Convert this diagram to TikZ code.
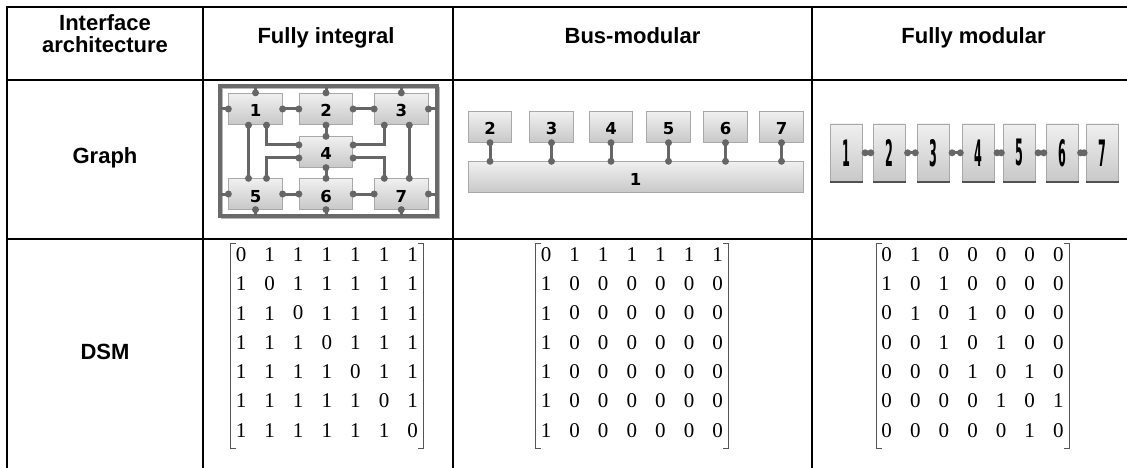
\documentclass[tikz,border=0pt]{standalone}
\usepackage{fontspec}
\setmainfont{Liberation Sans}
\newfontfamily\serifnum{Liberation Serif}
\newfontfamily\boxnum{DejaVu Sans}
\usetikzlibrary{calc}
\definecolor{connc}{HTML}{666666}
\definecolor{framec}{HTML}{6A6A6A}
\definecolor{framesh}{HTML}{B8B8B8}
\definecolor{boxedge}{HTML}{A8A8A8}
\definecolor{boxtop}{HTML}{F0F0F0}
\definecolor{boxbot}{HTML}{C8C8C8}
\definecolor{brkc}{HTML}{555555}
\tikzset{
  tbl/.style={line width=2.2pt, black},
  hdr/.style={font=\fontsize{22}{22}\selectfont\bfseries, inner sep=0pt},
  gbox/.style={draw=boxedge, top color=boxtop, bottom color=boxbot, line width=0.8pt, inner sep=0pt,
    font=\boxnum\bfseries\fontsize{16.5}{16.5}\selectfont, text height=16pt, text depth=0pt},
  fmbox/.style={draw=boxedge, top color=boxtop, bottom color=boxbot, line width=0.8pt, inner sep=0pt,
    minimum width=32pt, minimum height=57.7pt, font=\boxnum\bfseries\fontsize{14}{14}\selectfont},
  conn/.style={draw=connc, line width=3pt},
  cell/.style={font=\serifnum\fontsize{21}{21}\selectfont, inner sep=0pt},
  brk/.style={draw=brkc, line width=0.9pt},
}
\begin{document}
\begin{tikzpicture}[x=1pt,y=-1pt]
\useasboundingbox (0,0) rectangle (1127,468);
\fill[white] (0,0) rectangle (1127,468);

% table grid
\draw[tbl] (1127,7) -- (7,7) -- (7,468);
\draw[tbl] (7,80) -- (1127,80);
\draw[tbl] (7,239) -- (1127,239);
\draw[tbl] (203,7) -- (203,468);
\draw[tbl] (453,7) -- (453,468);
\draw[tbl] (812,7) -- (812,468);

% headers
\node[hdr, align=center] (hIA) at (105,34) {Interface\\architecture};
\node[hdr, anchor=base] (hFI) at (326,44) {Fully integral};
\node[hdr, anchor=base] (hBM) at (632.5,44) {Bus-modular};
\node[hdr, anchor=base] (hFM) at (973.5,44) {Fully modular};
\node[hdr, anchor=base] (rG) at (105,164) {Graph};
\node[hdr, anchor=base] (rD) at (105,359) {DSM};

% ---------- fully integral graph ----------
\node[minimum width=217pt, minimum height=130pt, inner sep=0pt, outer sep=0pt] (fr) at (328.5,151) {};
\draw[framesh, line width=2pt] ([shift={(1.8pt,-1.8pt)}]fr.south west) rectangle ([shift={(1.8pt,-1.8pt)}]fr.north east);
\draw[framec, line width=3.2pt] (fr.south west) rectangle (fr.north east);

\node[gbox, minimum width=53.5pt, minimum height=31.5pt] (i1) at (255.5,109) {1};
\node[gbox, minimum width=53.5pt, minimum height=31.5pt] (i2) at (326,109) {2};
\node[gbox, minimum width=53.5pt, minimum height=31.5pt] (i3) at (401.3,109) {3};
\node[gbox, minimum width=53.5pt, minimum height=30.5pt] (i4) at (326,152) {4};
\node[gbox, minimum width=53.5pt, minimum height=30.5pt] (i5) at (255.5,194) {5};
\node[gbox, minimum width=53.5pt, minimum height=30.5pt] (i6) at (326,194) {6};
\node[gbox, minimum width=53.5pt, minimum height=30.5pt] (i7) at (401.3,194) {7};

\coordinate (a15) at ([xshift=-7pt]i1.south);
\coordinate (b15) at ([xshift=-7pt]i5.north);
\coordinate (a37) at ([xshift=8pt]i3.south);
\coordinate (b37) at ([xshift=8pt]i7.north);
\coordinate (a14) at ([xshift=11pt]i1.south);
\coordinate (b14) at ([yshift=7pt]i4.west);
\coordinate (a54) at ([xshift=11pt]i5.north);
\coordinate (b54) at ([yshift=-6pt]i4.west);
\coordinate (a34) at ([xshift=-17pt]i3.south);
\coordinate (b34) at ([yshift=7pt]i4.east);
\coordinate (a74) at ([xshift=-17pt]i7.north);
\coordinate (b74) at ([yshift=-6pt]i4.east);

\foreach \n in {i1,i2,i3} \draw[conn] (\n.north) -- (\n.north |- fr.north);
\foreach \n in {i5,i6,i7} \draw[conn] (\n.south) -- (\n.south |- fr.south);
\foreach \n in {i1,i5} \draw[conn] (\n.west) -- (\n.west -| fr.west);
\foreach \n in {i3,i7} \draw[conn] (\n.east) -- (\n.east -| fr.east);
\draw[conn] (i1.east) -- (i2.west);
\draw[conn] (i2.east) -- (i3.west);
\draw[conn] (i5.east) -- (i6.west);
\draw[conn] (i6.east) -- (i7.west);
\draw[conn] (i2.south) -- (i4.north);
\draw[conn] (i4.south) -- (i6.north);
\draw[conn] (a15) -- (b15);
\draw[conn] (a37) -- (b37);
\draw[conn] (a14) |- (b14);
\draw[conn] (a54) |- (b54);
\draw[conn] (a34) |- (b34);
\draw[conn] (a74) |- (b74);

\foreach \p in {i1.north,i2.north,i3.north,i5.south,i6.south,i7.south,
  i1.west,i5.west,i3.east,i7.east,i1.east,i2.west,i2.east,i3.west,
  i5.east,i6.west,i6.east,i7.west,i2.south,i4.north,i4.south,i6.north,
  a15,b15,a37,b37,a14,b14,a54,b54,a34,b34,a74,b74}
  \fill[connc] (\p) circle (3.5pt);

% ---------- bus-modular graph ----------
\node[gbox, minimum width=335pt, minimum height=31pt] (u1) at (635.5,177.2) {1};
\foreach \i/\x in {2/490,3/551.5,4/611,5/668.5,6/725.5,7/781.5}{
  \node[gbox, minimum width=43.5pt, minimum height=30.6pt] (u\i) at (\x,127) {\i};
  \draw[conn] (u\i.south) -- (u\i.south |- u1.north);
  \fill[connc] (u\i.south) circle (3.5pt);
  \fill[connc] (u\i.south |- u1.north) circle (3.5pt);
}

% ---------- fully modular graph ----------
\foreach \i/\x in {1/846.7,2/889.2,3/933.7,4/978.7,5/1019.7,6/1062.2,7/1102.5}{
  \node[fmbox] (m\i) at (\x,152.8) {\scalebox{0.8}[2.6]{\i}};
  \draw[connc!80!black, line width=1.4pt] (m\i.south west) -- (m\i.south east);
}
\foreach \i/\j in {1/2,2/3,3/4,4/5,5/6,6/7}{
  \draw[conn] (m\i.east) -- (m\j.west);
  \fill[connc] ([xshift=2pt]m\i.east) circle (3.5pt);
  \fill[connc] ([xshift=-2pt]m\j.west) circle (3.5pt);
}

% ---------- DSMs ----------
\foreach \row [count=\i] in {{0,1,1,1,1,1,1},{1,0,1,1,1,1,1},{1,1,0,1,1,1,1},{1,1,1,0,1,1,1},{1,1,1,1,0,1,1},{1,1,1,1,1,0,1},{1,1,1,1,1,1,0}}
  \foreach \v [count=\j] in \row
    \node[cell] (A-\i-\j) at ({241+28.6*(\j-1)},{254.5+29.3*(\i-1)}) {\v};
\foreach \row [count=\i] in {{0,1,1,1,1,1,1},{1,0,0,0,0,0,0},{1,0,0,0,0,0,0},{1,0,0,0,0,0,0},{1,0,0,0,0,0,0},{1,0,0,0,0,0,0},{1,0,0,0,0,0,0}}
  \foreach \v [count=\j] in \row
    \node[cell] (B-\i-\j) at ({546+28.6*(\j-1)},{254.5+29.3*(\i-1)}) {\v};
\foreach \row [count=\i] in {{0,1,0,0,0,0,0},{1,0,1,0,0,0,0},{0,1,0,1,0,0,0},{0,0,1,0,1,0,0},{0,0,0,1,0,1,0},{0,0,0,0,1,0,1},{0,0,0,0,0,1,0}}
  \foreach \v [count=\j] in \row
    \node[cell] (C-\i-\j) at ({886.7+28.6*(\j-1)},{254.5+29.3*(\i-1)}) {\v};

\foreach \M in {A,B,C}{
  \draw[brk] ([xshift=-5pt,yshift=11.5pt]\M-1-1.center) -| ([xshift=-10.5pt,yshift=-18pt]\M-7-1.center) -- ++(5.5,0);
  \draw[brk] ([xshift=5.5pt,yshift=11.5pt]\M-1-7.center) -| ([xshift=11pt,yshift=-18pt]\M-7-7.center) -- ++(-5.5,0);
}
\end{tikzpicture}
\end{document}
